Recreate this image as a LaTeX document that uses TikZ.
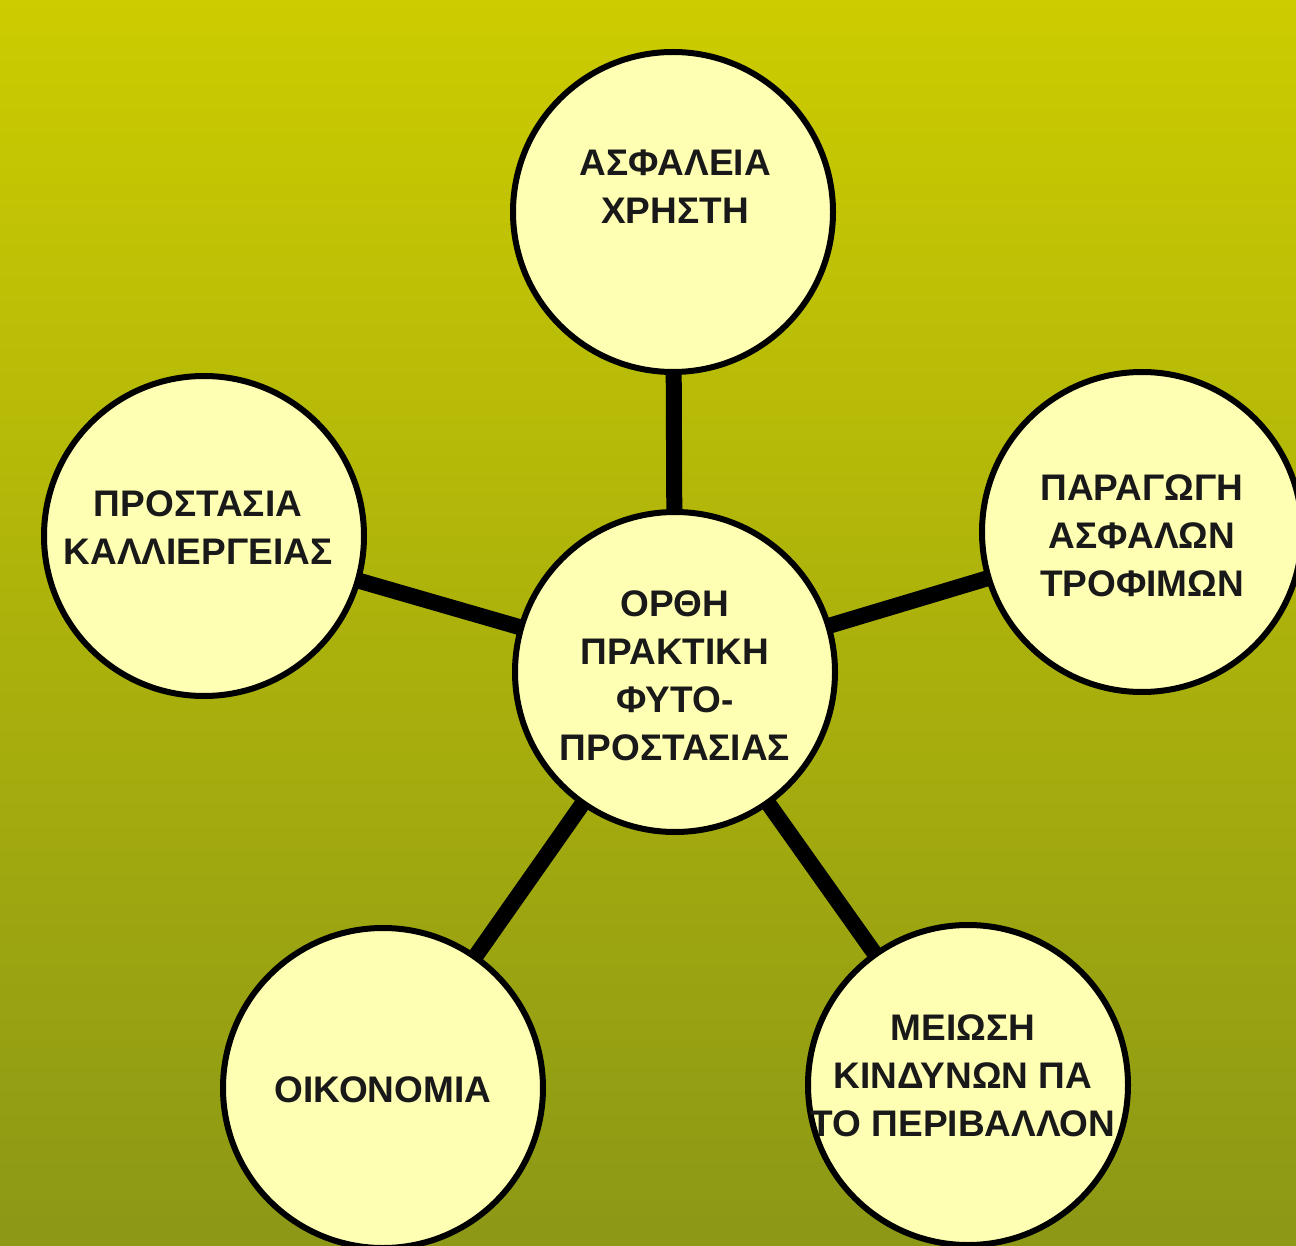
\documentclass[tikz,border=0pt]{standalone}
\usepackage{fontspec}
\setmainfont{Liberation Sans}
\usetikzlibrary{backgrounds}
\definecolor{bgtop}{RGB}{204,204,0}
\definecolor{bgbot}{RGB}{140,152,22}
\definecolor{cfill}{RGB}{255,255,180}
\pgfdeclarelayer{lines}
\pgfsetlayers{background,lines,main}
\tikzset{
  bubble/.style={circle,draw=black,line width=6pt,fill=cfill,minimum size=320pt,inner sep=0pt},
  lbl/.style={align=center,font=\fontsize{37}{48}\selectfont\bfseries,text=black!90,inner sep=0pt},
  link/.style={line width=16pt,black}
}
\begin{document}
\begin{tikzpicture}[x=1pt,y=-1pt]
\begin{pgfonlayer}{background}
\shade[top color=bgtop,bottom color=bgbot] (0,0) rectangle (1296,1246);
\end{pgfonlayer}
\useasboundingbox (0,0) rectangle (1296,1246);
\node[bubble] (c)  at (675,672) {};
\node[bubble] (t)  at (673,212) {};
\node[bubble] (l)  at (204,536) {};
\node[bubble] (r)  at (1142,532) {};
\node[bubble] (bl) at (383,1088) {};
\node[bubble] (br) at (968,1085) {};
\node[lbl] (tc)  at (675,676) {ΟΡΘΗ\\ΠΡΑΚΤΙΚΗ\\ΦΥΤΟ-\\ΠΡΟΣΤΑΣΙΑΣ};
\node[lbl] (tt)  at (675,187) {ΑΣΦΑΛΕΙΑ\\ΧΡΗΣΤΗ};
\node[lbl] (tl)  at (198,528) {ΠΡΟΣΤΑΣΙΑ\\ΚΑΛΛΙΕΡΓΕΙΑΣ};
\node[lbl] (tr)  at (1142,536) {ΠΑΡΑΓΩΓΗ\\ΑΣΦΑΛΩΝ\\ΤΡΟΦΙΜΩΝ};
\node[lbl] (tbl) at (383,1090) {ΟΙΚΟΝΟΜΙΑ};
\node[lbl] (tbr) at (963,1076) {ΜΕΙΩΣΗ\\ΚΙΝΔΥΝΩΝ ΠΑ\\ΤΟ ΠΕΡΙΒΑΛΛΟΝ};
\begin{pgfonlayer}{lines}
\draw[link] (c.center) -- (t.center);
\draw[link] (c.center) -- (l.center);
\draw[link] (c.center) -- (r.center);
\draw[link] (c.center) -- (bl.center);
\draw[link] (c.center) -- (br.center);
\end{pgfonlayer}
\end{tikzpicture}
\end{document}
